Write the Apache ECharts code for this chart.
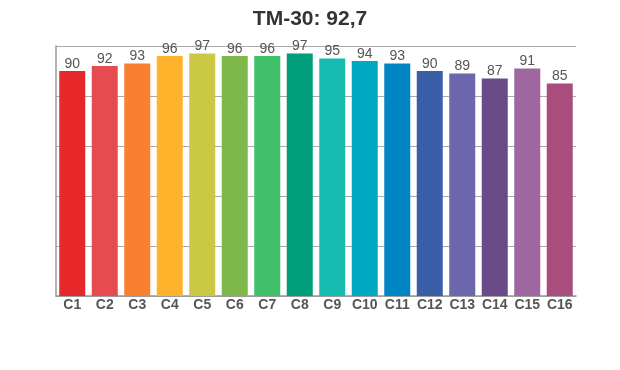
<!DOCTYPE html>
<html><head><meta charset="utf-8">
<script src="https://cdn.jsdelivr.net/npm/echarts@6/dist/echarts.min.js"></script>
<style>html,body{margin:0;padding:0;background:#fff}#c{width:620px;height:370px}</style>
</head><body><div id="c"></div>
<script>
const titleText = 'TM-30: 92,7';
const categories = ['C1','C2','C3','C4','C5','C6','C7','C8','C9','C10','C11','C12','C13','C14','C15','C16'];
const values = [90,92,93,96,97,96,96,97,95,94,93,90,89,87,91,85];
const colors = ['#e6282b','#e64b4f','#fb7f31','#fdb32b','#cbc944','#7fb84a','#41c06c','#009e7b','#16bcb0','#00a8c2','#0085c4','#3a5ea8','#6c67ac','#6a4b87','#9e679f','#a94d7c'];

const chart = echarts.init(document.getElementById('c'));
chart.setOption({
  animation: false,
  title: {text: titleText, left: 'center', top: 4,
    textStyle: {fontFamily: 'Liberation Sans, Arial', fontSize: 21, fontWeight: 'bold', color: '#333'}},
  grid: {left: 56, right: 44, top: 46, bottom: 74},
  xAxis: {type: 'category', data: categories,
    axisLine: {lineStyle: {color: '#999', width: 1.5}}, axisTick: {show: false},
    axisLabel: {interval: 0, hideOverlap: false, color: '#555', fontWeight: 'bold', fontSize: 14, fontFamily: 'Liberation Sans, Arial', margin: 2}},
  yAxis: {type: 'value', min: 0, max: 100, interval: 20,
    axisLine: {show: true, lineStyle: {color: '#999', width: 1.5}}, axisTick: {show: false},
    axisLabel: {show: false},
    splitLine: {lineStyle: {color: '#aaa', width: 1.2}}},
  series: [{type: 'bar', barCategoryGap: '20%',
    data: values.map((v, i) => ({value: v, itemStyle: {color: colors[i]}})),
    label: {show: true, position: 'top', distance: 0, color: '#555', fontSize: 14, fontFamily: 'Liberation Sans, Arial'}}]
});
</script></body></html>
